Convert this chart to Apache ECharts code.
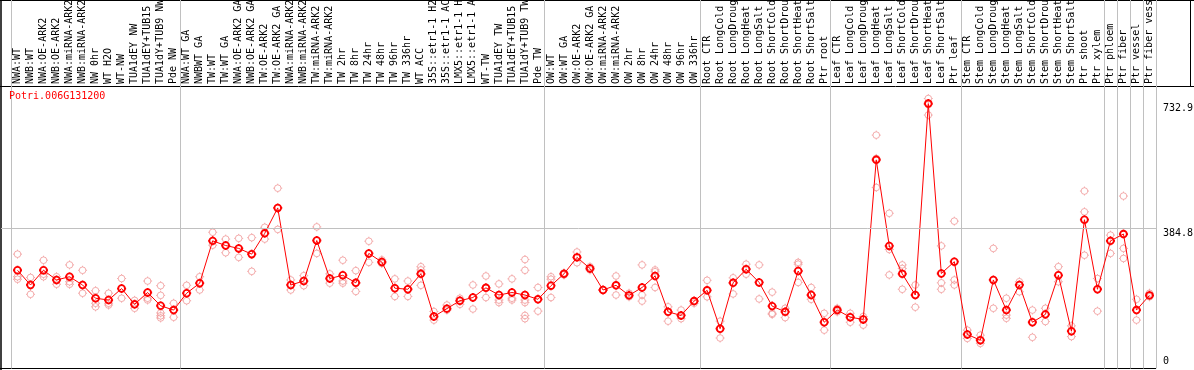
<!DOCTYPE html>
<html>
<head>
<meta charset="utf-8">
<title>Potri.006G131200</title>
<script src="https://cdn.jsdelivr.net/npm/echarts@6/dist/echarts.min.js"></script>
<style>
  html, body { margin: 0; padding: 0; background: #fff; }
  #chart { width: 1194px; height: 370px; }
</style>
</head>
<body>
<div id="chart"></div>
<script>
// sample names, left to right
const categories = [
  'NWA:WT', 'NWB:WT', 'NWA:OE-ARK2', 'NWB:OE-ARK2', 'NWA:miRNA-ARK2', 'NWB:miRNA-ARK2', 'NW 0hr', 'WT H2O', 'WT-NW',
  'TUA1dEY NW', 'TUA1dEY+TUB15 NW', 'TUA1dY+TUB9 NW', 'Pde NW',
  'NWA:WT GA', 'NWBWT GA', 'TW:WT', 'TW:WT GA', 'NWA:OE-ARK2 GA', 'NWB:OE-ARK2 GA', 'TW:OE-ARK2', 'TW:OE-ARK2 GA',
  'NWA:miRNA-ARK2', 'NWB:miRNA-ARK2', 'TW:miRNA-ARK2', 'TW:miRNA-ARK2', 'TW 2hr', 'TW 8hr', 'TW 24hr', 'TW 48hr',
  'TW 96hr', 'TW 336hr', 'WT ACC', '35S::etr1-1 H2O', '35S::etr1-1 ACC', 'LMX5::etr1-1 H2O', 'LMX5::etr1-1 ACC',
  'WT-TW', 'TUA1dEY TW', 'TUA1dEY+TUB15 TW', 'TUA1dY+TUB9 TW', 'Pde TW',
  'OW:WT', 'OW:WT GA', 'OW:OE-ARK2', 'OW:OE-ARK2 GA', 'OW:miRNA-ARK2', 'OW:miRNA-ARK2', 'OW 2hr', 'OW 8hr',
  'OW 24hr', 'OW 48hr', 'OW 96hr', 'OW 336hr',
  'Root CTR', 'Root LongCold', 'Root LongDrought', 'Root LongHeat', 'Root LongSalt', 'Root ShortCold',
  'Root ShortDrought', 'Root ShortHeat', 'Root ShortSalt', 'Ptr root',
  'Leaf CTR', 'Leaf LongCold', 'Leaf LongDrought', 'Leaf LongHeat', 'Leaf LongSalt', 'Leaf ShortCold',
  'Leaf ShortDrought', 'Leaf ShortHeat', 'Leaf ShortSalt', 'Ptr leaf',
  'Stem CTR', 'Stem LongCold', 'Stem LongDrought', 'Stem LongHeat', 'Stem LongSalt', 'Stem ShortCold',
  'Stem ShortDrought', 'Stem ShortHeat', 'Stem ShortSalt', 'Ptr shoot', 'Ptr xylem',
  'Ptr phloem', 'Ptr fiber', 'Ptr vessel', 'Ptr fiber vessel'
];

// first category index of each experiment block (gray separators)
const groupStarts = [0, 13, 41, 53, 63, 73, 84, 85, 86, 87];

// mean expression per sample
const means = [
  268, 227, 268, 241, 250, 227, 190, 185, 217, 173,
  206, 169, 157, 204, 232, 350, 337, 329, 313, 371,
  442, 227, 238, 351, 245, 254, 233, 315, 291, 218,
  215, 258, 139, 161, 183, 192, 219, 199, 206, 199,
  187, 225, 258, 304, 273, 213, 226, 198, 220, 252,
  152, 142, 182, 212, 105, 233, 271, 234, 168, 152,
  266, 199, 123, 157, 137, 131, 576, 336, 258, 199,
  732.9, 259, 292, 89, 73, 241, 157, 227, 123, 145,
  254, 98, 409, 215, 350, 369, 157, 198
];

// replicate values per sample
const reps = [
  [313, 250, 243], [248, 227, 201], [296, 257, 250], [250, 241, 229], [283, 236, 229],
  [268, 227, 204], [211, 176, 166], [204, 176, 171], [245, 217, 190], [184, 173, 162],
  [238, 190, 185], [225, 198, 149, 141, 135], [176, 157, 137], [226, 204, 183], [250, 232, 213],
  [374, 350, 338], [355, 337, 317], [357, 329, 304], [359, 313, 265], [388, 371, 355],
  [497, 442, 382], [241, 227, 213], [253, 238, 225], [389, 351, 315], [258, 245, 232],
  [296, 238, 232], [267, 233, 209], [349, 315, 290], [297, 291, 287], [244, 218, 195],
  [238, 215, 195], [278, 269, 226], [153, 139, 129], [171, 161, 157], [190, 183, 173],
  [227, 192, 160], [252, 219, 192], [230, 185, 178], [244, 190, 185], [298, 268, 185, 178, 142, 133],
  [220, 187, 154], [250, 243, 192], [261, 258, 255], [319, 304, 289], [278, 273, 269],
  [213, 213], [252, 226, 199], [204, 198, 194], [283, 199, 182], [269, 264, 220],
  [166, 152, 126], [157, 142, 133], [182, 176], [240, 212, 194], [126, 105, 79],
  [247, 233, 202], [285, 271, 257], [283, 234, 188], [207, 148, 145], [162, 152, 136],
  [290, 285, 234], [220, 199, 187], [148, 123, 101], [162, 157, 152], [148, 137, 123],
  [139, 131, 115], [645, 580, 499], [427, 326, 255], [283, 273, 215], [227, 199, 165],
  [747, 730, 701], [336, 233, 215], [405, 241, 227], [101, 89, 78], [87, 73, 64],
  [329, 241, 162], [190, 143, 134], [236, 227, 208], [157, 123, 81], [162, 145, 125],
  [278, 254, 236], [113, 98, 83], [489, 431, 310], [245, 215, 154], [366, 350, 315],
  [475, 329, 301], [187, 157, 129], [204, 198, 194]
];

// right hand value labels
const yTicks = [0, 384.8, 732.9];

const mono = 'DejaVu Sans Mono';
const yMin = -6, yMax = 782;
// small ring with tick marks, like the original bitmap markers
const ring = 'path://M5,0L5,1.3M5,8.7L5,10M0,5L1.3,5M8.7,5L10,5M8.7,5A3.7,3.7,0,1,1,1.3,5A3.7,3.7,0,1,1,8.7,5Z';

const repData = [];
reps.forEach((r, i) => r.forEach(v => repData.push([i, v])));

const chart = echarts.init(document.getElementById('chart'));

chart.setOption({
  animation: false,
  title: {
    text: 'Potri.006G131200',
    left: 9, top: 91, padding: 0,
    textStyle: { color: '#ff0000', fontFamily: mono, fontSize: 10, fontWeight: 'normal' }
  },
  grid: [
    { left: 11, right: 38, top: 86, bottom: 1.5, containLabel: false, outerBoundsMode: 'none' },   // data
    { left: 11, right: 38, top: 0, bottom: 1.5, containLabel: false, outerBoundsMode: 'none' },    // separators
    { left: 1, right: 38, top: 86, bottom: 1.5, containLabel: false, outerBoundsMode: 'none' }     // reference line
  ],
  xAxis: [
    {
      gridIndex: 0, type: 'category', position: 'top', data: categories, boundaryGap: true,
      axisLine: { show: false }, axisTick: { show: false }, splitLine: { show: false },
      axisLabel: { interval: 0, rotate: 90, margin: 2, color: '#000', fontFamily: mono, fontSize: 10 }
    },
    {
      gridIndex: 1, type: 'category', data: categories, boundaryGap: true,
      axisLine: { show: false }, axisTick: { show: false }, axisLabel: { show: false },
      splitLine: {
        show: true,
        interval: (idx) => groupStarts.indexOf(idx) >= 0,
        lineStyle: { color: '#c0c0c0', width: 1 }
      }
    },
    { gridIndex: 2, type: 'value', min: 0, max: 1, show: false }
  ],
  yAxis: [
    { gridIndex: 0, type: 'value', min: yMin, max: yMax, show: false },
    { gridIndex: 1, type: 'value', min: 0, max: 1, show: false },
    { gridIndex: 2, type: 'value', min: yMin, max: yMax, show: false }
  ],
  graphic: [
    { type: 'line', shape: { x1: 0, y1: 0.5, x2: 1194, y2: 0.5 }, style: { stroke: '#000', lineWidth: 1 } },
    { type: 'line', shape: { x1: 0, y1: 86.5, x2: 1194, y2: 86.5 }, style: { stroke: '#000', lineWidth: 1 } },
    { type: 'line', shape: { x1: 1, y1: 0, x2: 1, y2: 370 }, style: { stroke: '#000', lineWidth: 1.5 } },
    { type: 'line', shape: { x1: 0, y1: 368.5, x2: 1156, y2: 368.5 }, style: { stroke: '#000', lineWidth: 1 } },
    { type: 'line', shape: { x1: 1190.5, y1: 0, x2: 1190.5, y2: 86 }, style: { stroke: '#000', lineWidth: 1 } }
  ],
  series: [
    {
      // reference line + right value labels
      type: 'line', xAxisIndex: 2, yAxisIndex: 2, data: [], silent: true,
      markLine: {
        silent: true, symbol: ['none', 'none'],
        lineStyle: { type: 'solid', width: 1 },
        label: { position: 'end', distance: 7, color: '#000', fontFamily: mono, fontSize: 10, formatter: (p) => String(p.value) },
        data: yTicks.map(v => ({
          yAxis: v,
          lineStyle: { color: v === 384.8 ? '#c0c0c0' : 'rgba(0,0,0,0)' },
          label: { verticalAlign: v === 0 ? 'bottom' : 'top' }
        }))
      }
    },
    {
      name: 'replicates', type: 'scatter', xAxisIndex: 0, yAxisIndex: 0,
      data: repData, symbol: ring, symbolSize: 9, silent: true, z: 2,
      itemStyle: { color: 'rgba(0,0,0,0)', borderColor: '#f09898', borderWidth: 1 }
    },
    {
      name: 'mean', type: 'line', xAxisIndex: 0, yAxisIndex: 0,
      data: means, symbol: ring, symbolSize: 9, showAllSymbol: true, silent: true, z: 3,
      lineStyle: { color: '#ff0000', width: 1 },
      itemStyle: { color: 'rgba(0,0,0,0)', borderColor: '#ff0000', borderWidth: 1.8 }
    }
  ]
});
</script>
</body>
</html>
